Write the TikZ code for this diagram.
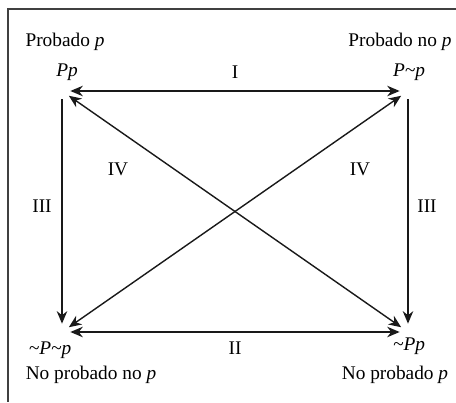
\documentclass[tikz,border=0pt]{standalone}
\usepackage{fontspec}
\setmainfont{Liberation Serif}
\usepackage{tikz}
\usetikzlibrary{arrows.meta, positioning}
\newcommand{\nt}{\textasciitilde}

\begin{document}
\begin{tikzpicture}[x=0.02cm, y=-0.02cm]
\tikzset{
  corner/.style={circle,inner sep=0pt,minimum size=0.32cm},
  frm/.style={draw=black!75,line width=0.9pt},
  ar/.style={{Stealth[length=2.5mm,width=2.1mm]}-{Stealth[length=2.5mm,width=2.1mm]},line width=0.8pt,draw=black!90},
  sar/.style={-{Stealth[length=2.5mm,width=2.1mm]},line width=0.8pt,draw=black!90},
  lab/.style={font=\fontsize{11}{13}\selectfont,inner sep=1pt},
  frml/.style={font=\fontsize{11}{13}\selectfont\itshape,inner sep=1pt}
}
\useasboundingbox (0,0) rectangle (456,402);
% ---- frame
\draw[frm] (456,9) -- (8,9) -- (8,402);
% ---- corners of the square
\node[corner] (tl) at (62,91)  {};
\node[corner] (tr) at (408,91) {};
\node[corner] (bl) at (62,332) {};
\node[corner] (br) at (408,332) {};
% ---- formulas and names
\node[frml] (pp)   at (67,72)  {Pp};
\node[frml] (pnp)  at (409,72) {P\nt p};
\node[frml] (npnp) at (50,350) {\nt P\nt p};
\node[frml] (npp)  at (409,346) {\nt Pp};
\node[lab] (npp0)  at (65,42)  {Probado \textit{p}};
\node[lab] (nppn)  at (400,42) {Probado no \textit{p}};
\node[lab] (nnpn)  at (91,375) {No probado no \textit{p}};
\node[lab] (nnp)   at (395,375) {No probado \textit{p}};
% ---- arrows
\draw[ar] (tl) -- (tr);
\draw[ar] (bl) -- (br);
\draw[sar] (tl) -- (bl);
\draw[sar] (tr) -- (br);
\draw[ar] (tl) -- (br);
\draw[ar] (tr) -- (bl);
% ---- roman labels
\node[lab] (li)   at (235,72)  {I};
\node[lab] (lii)  at (235,348) {II};
\node[lab] (liil) at (42,206)  {III};
\node[lab] (liir) at (427,206) {III};
\node[lab] (livl) at (118,169) {IV};
\node[lab] (livr) at (360,169) {IV};
\end{tikzpicture}
\end{document}
